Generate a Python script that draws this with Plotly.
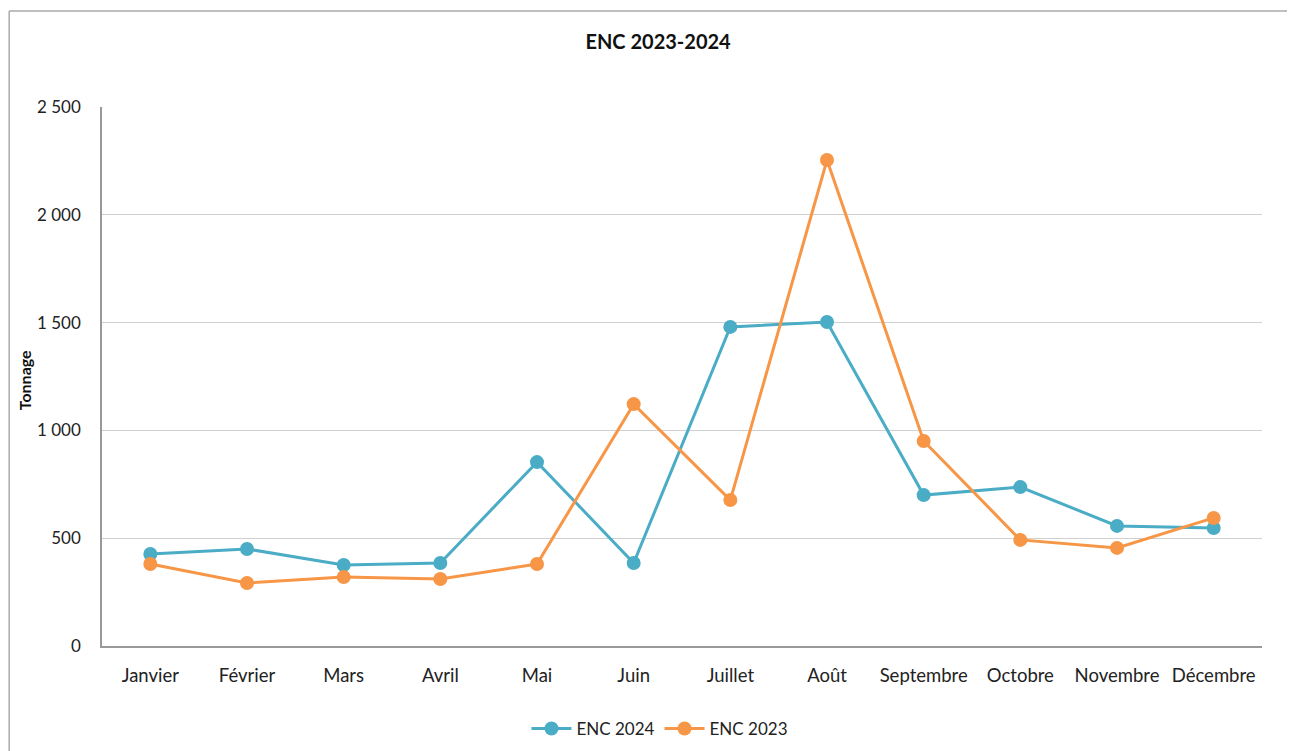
import plotly.graph_objects as go

months = ["Janvier", "Février", "Mars", "Avril", "Mai", "Juin", "Juillet",
          "Août", "Septembre", "Octobre", "Novembre", "Décembre"]
enc_2024 = [427, 450, 376, 385, 853, 385, 1480, 1503, 700, 737, 557, 547]
enc_2023 = [380, 292, 320, 311, 380, 1122, 677, 2254, 951, 492, 455, 594]
y_ticks = [0, 500, 1000, 1500, 2000, 2500]

FONT = "Lato, 'Open Sans', sans-serif"

fig = go.Figure()
fig.add_trace(go.Scatter(x=months, y=enc_2024, name="ENC 2024", mode="lines+markers",
                         line=dict(color="#4BACC6", width=3),
                         marker=dict(size=14, color="#4BACC6")))
fig.add_trace(go.Scatter(x=months, y=enc_2023, name="ENC 2023", mode="lines+markers",
                         line=dict(color="#F79646", width=3),
                         marker=dict(size=14, color="#F79646")))

fig.update_layout(
    width=1295, height=751,
    margin=dict(l=94, r=41, t=99, b=113, autoexpand=False),
    paper_bgcolor="white", plot_bgcolor="white",
    separators=", ",
    font=dict(family=FONT, size=17, color="#222222"),
    title=dict(text="<b>ENC 2023-2024</b>", x=0.502, xanchor="center",
               y=0.955, yanchor="middle", font=dict(size=20, color="#111111")),
    legend=dict(orientation="h", x=0.481, xanchor="center", y=-0.154, yanchor="middle",
                font=dict(size=17), itemwidth=40),
    showlegend=True,
)
fig.update_xaxes(
    type="category", range=[-0.5, 11.5], showgrid=False, automargin=False,
    showline=True, linecolor="#999999", linewidth=1.5,
    ticks="", ticklabelstandoff=12, tickfont=dict(size=18.5),
)
fig.update_yaxes(
    range=[0, 2500], tickvals=y_ticks, tickformat=",d", automargin=False,
    showgrid=True, gridcolor="#d0d0d0", gridwidth=1,
    showline=True, linecolor="#999999", linewidth=1.5,
    ticks="", ticklabelstandoff=16, zeroline=False,
)
fig.add_annotation(text="<b>Tonnage</b>", textangle=-90, showarrow=False,
                   xref="paper", yref="paper", x=-0.067, y=0.4935,
                   xanchor="center", yanchor="middle", font=dict(size=16, color="#111111"))
# outer chart frame (top and left edges; right and bottom fall outside the view)
fig.add_shape(type="line", xref="paper", yref="paper",
              x0=-0.08, x1=1.06, y0=1.178, y1=1.178,
              line=dict(color="#aaaaaa", width=1.5), layer="below")
fig.add_shape(type="line", xref="paper", yref="paper",
              x0=-0.08, x1=-0.08, y0=-0.22, y1=1.178,
              line=dict(color="#aaaaaa", width=1.5), layer="below")

fig.write_html("out.html")
